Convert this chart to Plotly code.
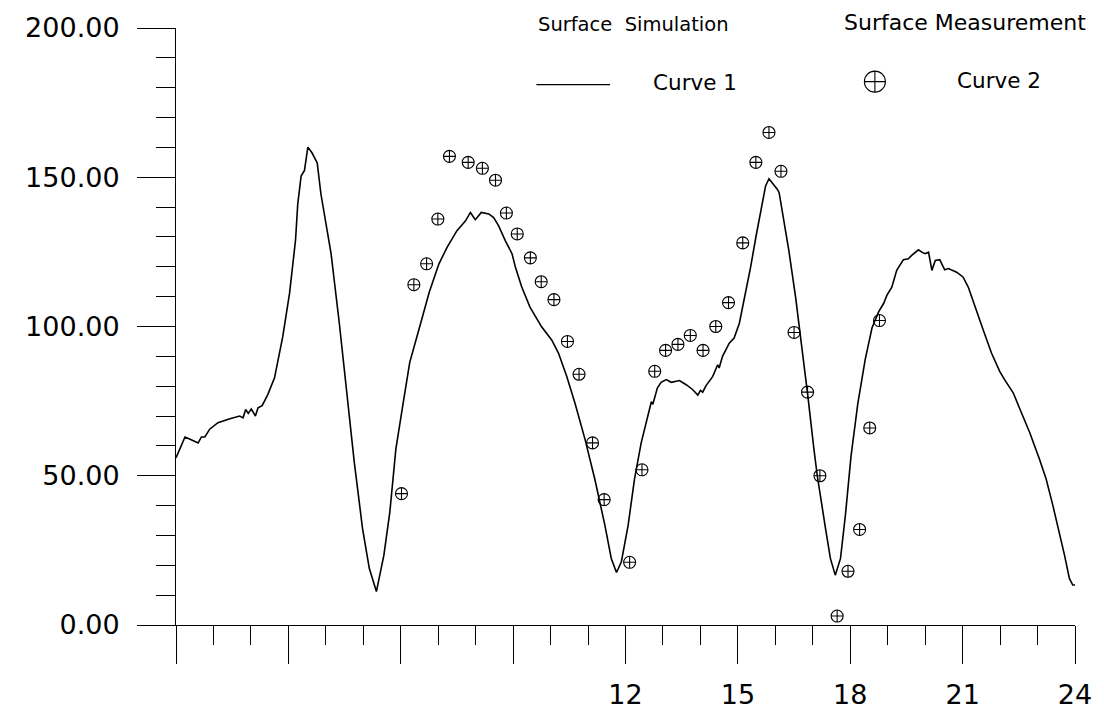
import plotly.graph_objects as go

# Surface simulation (Curve 1): hour of day vs. value
sim_hour = [
    0.00, 0.24, 0.42, 0.59, 0.68, 0.77, 0.90, 1.12, 1.44, 1.70, 1.79, 1.86, 1.93, 2.01,
    2.12, 2.19, 2.30, 2.45, 2.63, 2.85, 3.03, 3.19, 3.25, 3.34, 3.43, 3.52, 3.63, 3.77,
    3.87, 4.00, 4.14, 4.36, 4.58, 4.76, 4.98, 5.16, 5.35, 5.55, 5.71, 5.87, 6.06, 6.24,
    6.53, 6.62, 6.76, 7.02, 7.24, 7.50, 7.73, 7.86, 7.99, 8.15, 8.35, 8.48, 8.61, 8.79,
    8.97, 9.06, 9.23, 9.45, 9.76, 10.03, 10.21, 10.43, 10.65, 10.92, 11.18, 11.45, 11.62,
    11.76, 11.89, 12.07, 12.24, 12.42, 12.55, 12.69, 12.73, 12.78, 12.85, 12.95, 13.09,
    13.22, 13.44, 13.62, 13.79, 13.93, 14.00, 14.06, 14.15, 14.33, 14.46, 14.50, 14.59,
    14.77, 14.90, 15.04, 15.17, 15.34, 15.48, 15.61, 15.74, 15.83, 15.92, 16.05, 16.10,
    16.23, 16.36, 16.54, 16.72, 16.87, 17.03, 17.12, 17.34, 17.47, 17.60, 17.74, 17.87,
    18.02, 18.20, 18.40, 18.58, 18.76, 18.89, 18.98, 19.11, 19.24, 19.42, 19.55, 19.64,
    19.82, 19.91, 20.00, 20.09, 20.18, 20.27, 20.39, 20.52, 20.62, 20.84, 21.01, 21.15,
    21.28, 21.55, 21.77, 21.99, 22.12, 22.35, 22.57, 22.79, 23.05, 23.23, 23.41, 23.58,
    23.72, 23.85, 23.94, 24.00,
]
sim_value = [
    56.0, 63.0, 62.0, 61.0, 63.0, 63.0, 65.6, 67.8, 69.1, 70.0, 69.4, 72.2, 70.9, 72.4,
    70.0, 72.8, 73.5, 77.2, 82.8, 96.6, 111.0, 128.8, 141.0, 150.4, 152.3, 160.1, 158.2, 154.8,
    144.3, 134.9, 124.4, 101.1, 76.6, 54.5, 32.3, 19.0, 11.2, 23.4, 38.0, 59.0, 74.0, 88.0,
    101.0, 105.5, 111.5, 121.0, 126.6, 132.1, 135.4, 138.2, 135.8, 138.2, 137.7, 136.5, 133.8, 128.8,
    124.4, 119.9, 113.2, 106.5, 99.9, 95.5, 91.1, 83.3, 74.4, 62.2, 48.9, 33.4, 22.3,
    17.6, 21.2, 33.4, 48.9, 61.1, 67.8, 74.8, 73.9, 76.6, 79.4, 81.3, 82.2,
    81.3, 81.9, 80.5, 78.9, 77.0, 78.6, 78.0, 80.2, 83.3, 87.2, 86.1, 90.0,
    94.4, 96.1, 101.1, 108.8, 119.9, 129.9, 138.8, 147.1, 149.5, 148.2, 146.0, 144.9,
    135.4, 125.5, 109.9, 92.2, 76.5, 58.9, 50.0, 32.3, 22.3, 16.7, 22.3, 36.7,
    56.5, 74.0, 89.0, 99.5, 105.0, 107.7, 110.5, 113.2, 118.8, 122.4, 122.7, 123.8,
    125.7, 124.9, 124.4, 124.9, 118.8, 122.1, 122.4, 119.0, 119.4, 118.2, 116.6, 113.2,
    108.3, 98.8, 91.1, 85.0, 82.2, 77.8, 71.1, 64.5, 55.6, 48.9, 40.0, 31.2,
    23.4, 15.6, 13.4, 13.4,
]

# Surface measurement (Curve 2)
meas_hour = [
    6.02, 6.35, 6.69, 6.99, 7.30, 7.80, 8.18, 8.53, 8.82, 9.11, 9.46, 9.75, 10.09,
    10.45, 10.76, 11.12, 11.43, 12.11, 12.44, 12.78, 13.07, 13.40, 13.73, 14.07,
    14.41, 14.75, 15.13, 15.48, 15.83, 16.15, 16.50, 16.86, 17.19, 17.65, 17.94,
    18.25, 18.52, 18.78,
]
meas_value = [
    44, 114, 121, 136, 157, 155, 153, 149, 138, 131, 123, 115, 109,
    95, 84, 61, 42, 21, 52, 85, 92, 94, 97, 92,
    100, 108, 128, 155, 165, 152, 98, 78, 50, 3, 18,
    32, 66, 102,
]

# Axis ticks
x_major = [0, 3, 6, 9, 12, 15, 18, 21, 24]
x_major_text = ["", "", "", "", "12", "15", "18", "21", "24"]
y_major = [0, 50, 100, 150, 200]
y_major_text = ["0.00", "50.00", "100.00", "150.00", "200.00"]

FONT = "DejaVu Sans, Verdana, sans-serif"
W, H = 1104, 722
L, R, T, B = 176, 25, 26, 95

fig = go.Figure()

fig.add_trace(go.Scatter(
    x=sim_hour, y=sim_value, mode="lines", name="Curve 1",
    line=dict(color="black", width=1.6), showlegend=False,
))
fig.add_trace(go.Scatter(
    x=meas_hour, y=meas_value, mode="markers", name="Curve 2",
    marker=dict(symbol="circle-cross-open", size=12, color="black",
                line=dict(color="black", width=1.1)),
    cliponaxis=False, showlegend=False,
))

# Key symbol for the measurement entry, placed on a hidden pixel-scaled overlay
fig.add_trace(go.Scatter(
    x=[878], y=[80], xaxis="x2", yaxis="y2", mode="markers",
    marker=dict(symbol="circle-cross-open", size=21, color="black",
                line=dict(color="black", width=1.1)),
    cliponaxis=False, showlegend=False, hoverinfo="skip",
))


def px(xp):
    return (xp - L) / (W - L - R)


def py(yp):
    return (H - B - yp) / (H - T - B)


# Key line for the simulation entry
fig.add_shape(type="line", xref="paper", yref="paper",
              x0=px(538), x1=px(612), y0=py(83), y1=py(83),
              line=dict(color="black", width=1.2))

key_labels = [
    ("Surface  Simulation", 538, 22, 19.5),
    ("Surface Measurement", 845, 20, 22),
    ("Curve 1", 653, 81, 21.5),
    ("Curve 2", 958, 79, 21.5),
]
for text, xp, yp, size in key_labels:
    fig.add_annotation(text=text, xref="paper", yref="paper",
                       x=px(xp), y=py(yp), xanchor="left", yanchor="middle",
                       showarrow=False, font=dict(family=FONT, size=size, color="black"))

fig.update_layout(
    width=W, height=H,
    margin=dict(l=L, r=R, t=T, b=B, pad=0),
    paper_bgcolor="white", plot_bgcolor="white",
    font=dict(family=FONT, color="black"),
    xaxis=dict(
        range=[0, 24], showgrid=False, zeroline=False,
        showline=True, linecolor="black", linewidth=1,
        tickmode="array", tickvals=x_major, ticktext=x_major_text,
        ticks="outside", ticklen=38, tickwidth=1, tickcolor="black",
        ticklabelstandoff=8,
        tickfont=dict(family=FONT, size=27, color="black"),
        minor=dict(ticks="outside", ticklen=19, tickwidth=1, tickcolor="black",
                   dtick=1, tick0=0, showgrid=False),
    ),
    yaxis=dict(
        range=[0, 200], showgrid=False, zeroline=False,
        showline=True, linecolor="black", linewidth=1,
        tickmode="array", tickvals=y_major, ticktext=y_major_text,
        ticks="outside", ticklen=38, tickwidth=1, tickcolor="black",
        ticklabelstandoff=12,
        tickfont=dict(family=FONT, size=27, color="black"),
        minor=dict(ticks="outside", ticklen=19, tickwidth=1, tickcolor="black",
                   dtick=10, tick0=0, showgrid=False),
    ),
    xaxis2=dict(range=[L, W - R], overlaying="x", visible=False),
    yaxis2=dict(range=[H - B, T], overlaying="y", visible=False),
)

fig.write_html("out.html")
